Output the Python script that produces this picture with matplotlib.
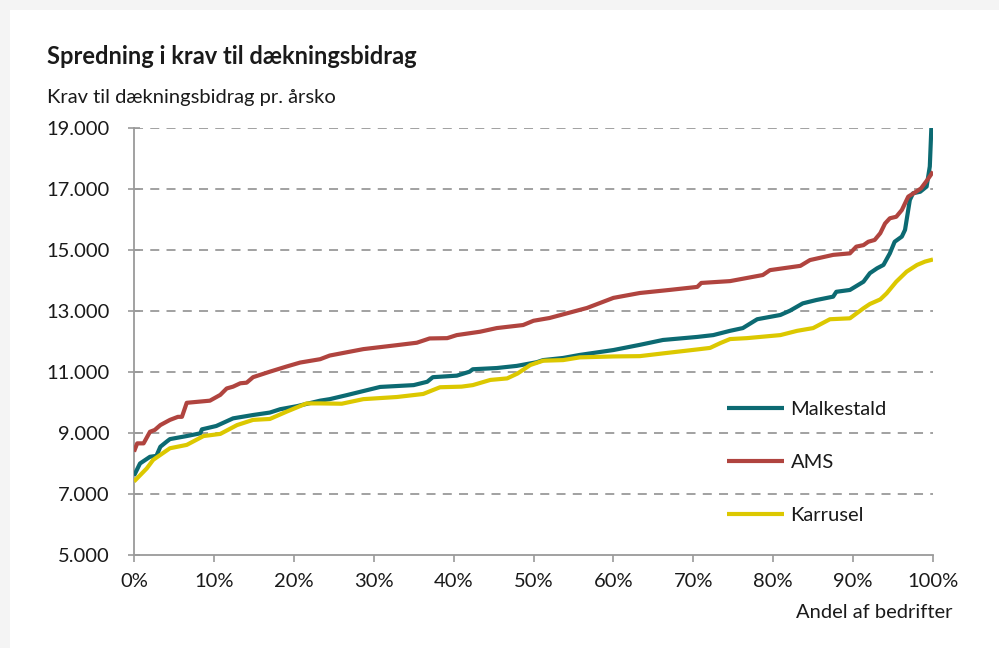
import matplotlib
matplotlib.use("Agg")
import matplotlib.pyplot as plt
from matplotlib.patches import Rectangle
from matplotlib.ticker import FuncFormatter

# ---- data (x = share of farms in %, y = requirement per cow-year) ----
x_malk = [0, 0.75, 2, 2.8, 3.3, 4.1, 4.5, 6.6, 8.3, 8.5, 10.3, 12.4, 14.9, 17, 18.3, 20.4, 23.3,
          24.5, 26.6, 30.8, 35, 36.7, 37.4, 40.4, 42, 42.4, 45.4, 47.9, 50.4, 51.2, 53.7, 55.8,
          60, 63.3, 66.2, 70.5, 72.5, 74.6, 76.2, 78, 80.9, 82.1, 83.7, 85.4, 87.5, 87.9, 89.6,
          91.3, 92.1, 93, 93.8, 94.6, 95.2, 96.1, 96.5, 97.1, 97.5, 98.4, 99.2, 99.6, 99.8, 100]
y_malk = [7600, 8000, 8220, 8250, 8550, 8720, 8800, 8900, 8990, 9120, 9230, 9480, 9590, 9670,
          9780, 9880, 10060, 10110, 10240, 10510, 10570, 10680, 10830, 10880, 11010, 11090,
          11130, 11200, 11320, 11390, 11460, 11560, 11720, 11890, 12050, 12150, 12210, 12350,
          12440, 12730, 12870, 13010, 13250, 13360, 13470, 13630, 13690, 13960, 14240, 14400,
          14510, 14890, 15270, 15440, 15660, 16640, 16860, 16910, 17080, 17740, 19040, 19500]

x_ams = [0, 0.4, 1.2, 2, 2.6, 3.3, 4.5, 5.5, 6, 6.6, 9.5, 10.8, 11.6, 12.4, 13.3, 14.1, 14.9, 17,
         19.1, 20.8, 23.3, 24.5, 28.7, 32.9, 35.4, 37, 39.2, 40.4, 43.3, 45.4, 48.7, 50, 52,
         56.7, 60, 63.3, 67, 70.5, 71, 74.6, 78.7, 79.6, 83.4, 84.6, 87.5, 89.6, 90.4, 91.3,
         91.9, 92.7, 93.4, 94, 94.6, 95.4, 96.1, 96.9, 97.7, 98.5, 99.3, 100]
y_ams = [8390, 8660, 8660, 9040, 9100, 9260, 9430, 9530, 9530, 9990, 10060, 10250, 10460, 10520,
         10630, 10650, 10830, 11010, 11180, 11310, 11420, 11540, 11750, 11880, 11960, 12100,
         12110, 12210, 12320, 12440, 12540, 12680, 12770, 13100, 13430, 13590, 13690, 13790,
         13920, 13980, 14180, 14340, 14480, 14670, 14840, 14890, 15110, 15160, 15270, 15330,
         15550, 15870, 16040, 16090, 16310, 16750, 16880, 17020, 17300, 17570]

x_karr = [0, 1.6, 2.4, 4.5, 6.6, 8.7, 10.8, 12.9, 14.9, 17, 19.1, 21.6, 23.3, 26, 28.7, 32.9,
          36.2, 38.3, 41, 42.4, 44.6, 46.7, 48, 49.6, 51.2, 53.7, 55.8, 60, 63.3, 66.2, 70.5,
          72.1, 73.4, 74.6, 76.7, 80.9, 83, 85, 87.1, 89.6, 91.3, 92.1, 93.4, 94.2, 95.4, 96.7,
          98, 99, 100]
y_karr = [7410, 7840, 8120, 8500, 8610, 8900, 8970, 9260, 9430, 9460, 9700, 9970, 9970, 9960,
          10110, 10180, 10280, 10500, 10520, 10570, 10740, 10790, 10950, 11230, 11370, 11390,
          11480, 11510, 11520, 11610, 11740, 11790, 11950, 12080, 12110, 12210, 12350, 12440,
          12730, 12760, 13090, 13230, 13380, 13580, 13960, 14290, 14510, 14620, 14690]

series_names = ["Malkestald", "AMS", "Karrusel"]
y_ticks = [5000, 7000, 9000, 11000, 13000, 15000, 17000, 19000]
x_ticks = [0, 10, 20, 30, 40, 50, 60, 70, 80, 90, 100]

title = "Spredning i krav til dækningsbidrag"
subtitle = "Krav til dækningsbidrag pr. årsko"
x_label = "Andel af bedrifter"

# ---- style ----
FONT = ["Lato", "DejaVu Sans"]
plt.rcParams["font.family"] = FONT
TEAL = "#0c6a72"
RED = "#b0443f"
YEL = "#dcc800"
GRID = "#9a9a9a"
TXT = "#1a1a1a"
FS = 14.5

fig = plt.figure(figsize=(9.99, 6.48), dpi=100, facecolor="#f4f4f4")
fig.patches.append(Rectangle((10 / 999, 0), 1, 1 - 10 / 648, transform=fig.transFigure,
                             facecolor="white", edgecolor="none", zorder=-5))

ax = fig.add_axes([134 / 999, 1 - 555 / 648, (933 - 134) / 999, (555 - 128) / 648])
ax.set_zorder(2)
ax.set_facecolor("white")

lw = 3.0
ax.plot(x_malk, y_malk, color=TEAL, lw=lw, label=series_names[0], solid_joinstyle="round",
        solid_capstyle="butt", zorder=3)
ax.plot(x_ams, y_ams, color=RED, lw=lw, label=series_names[1], solid_joinstyle="round",
        solid_capstyle="butt", zorder=3)
ax.plot(x_karr, y_karr, color=YEL, lw=lw, label=series_names[2], solid_joinstyle="round",
        solid_capstyle="butt", zorder=3)

ax.set_xlim(0, 100)
ax.set_ylim(5000, 19000)
ax.set_xticks(x_ticks)
ax.set_yticks(y_ticks)
ax.xaxis.set_major_formatter(FuncFormatter(lambda v, p: f"{int(v)}%"))
ax.yaxis.set_major_formatter(FuncFormatter(lambda v, p: f"{int(v):,}".replace(",", ".")))

for yv in y_ticks[1:]:
    ax.axhline(yv, color=GRID, lw=1.3, ls=(0, (5, 4)), zorder=1)

for s in ["top", "right"]:
    ax.spines[s].set_visible(False)
for s in ["left", "bottom"]:
    ax.spines[s].set_color(GRID)
    ax.spines[s].set_linewidth(1.3)

ax.tick_params(axis="x", direction="out", length=5, width=1.2, color=GRID, pad=8,
               labelsize=FS, labelcolor=TXT)
ax.tick_params(axis="y", direction="inout", length=9, width=1.2, color=GRID, pad=13,
               labelsize=FS, labelcolor=TXT)

fig.text(47 / 999, 1 - 57 / 648, title, fontsize=17, fontweight="bold", color=TXT,
         ha="left", va="center")
fig.text(47 / 999, 1 - 98 / 648, subtitle, fontsize=FS, color=TXT, ha="left", va="center")
fig.text(952 / 999, 1 - 612 / 648, x_label, fontsize=FS, color=TXT, ha="right", va="center")

leg = ax.legend(loc="upper left", bbox_to_anchor=(717 / 999, 1 - 391 / 648),
                bbox_transform=fig.transFigure, frameon=False, fontsize=FS,
                handlelength=2.85, handletextpad=0.3, labelspacing=1.78, borderpad=0)
for t in leg.get_texts():
    t.set_color(TXT)

fig.savefig("out.png", dpi=100, facecolor=fig.get_facecolor())
